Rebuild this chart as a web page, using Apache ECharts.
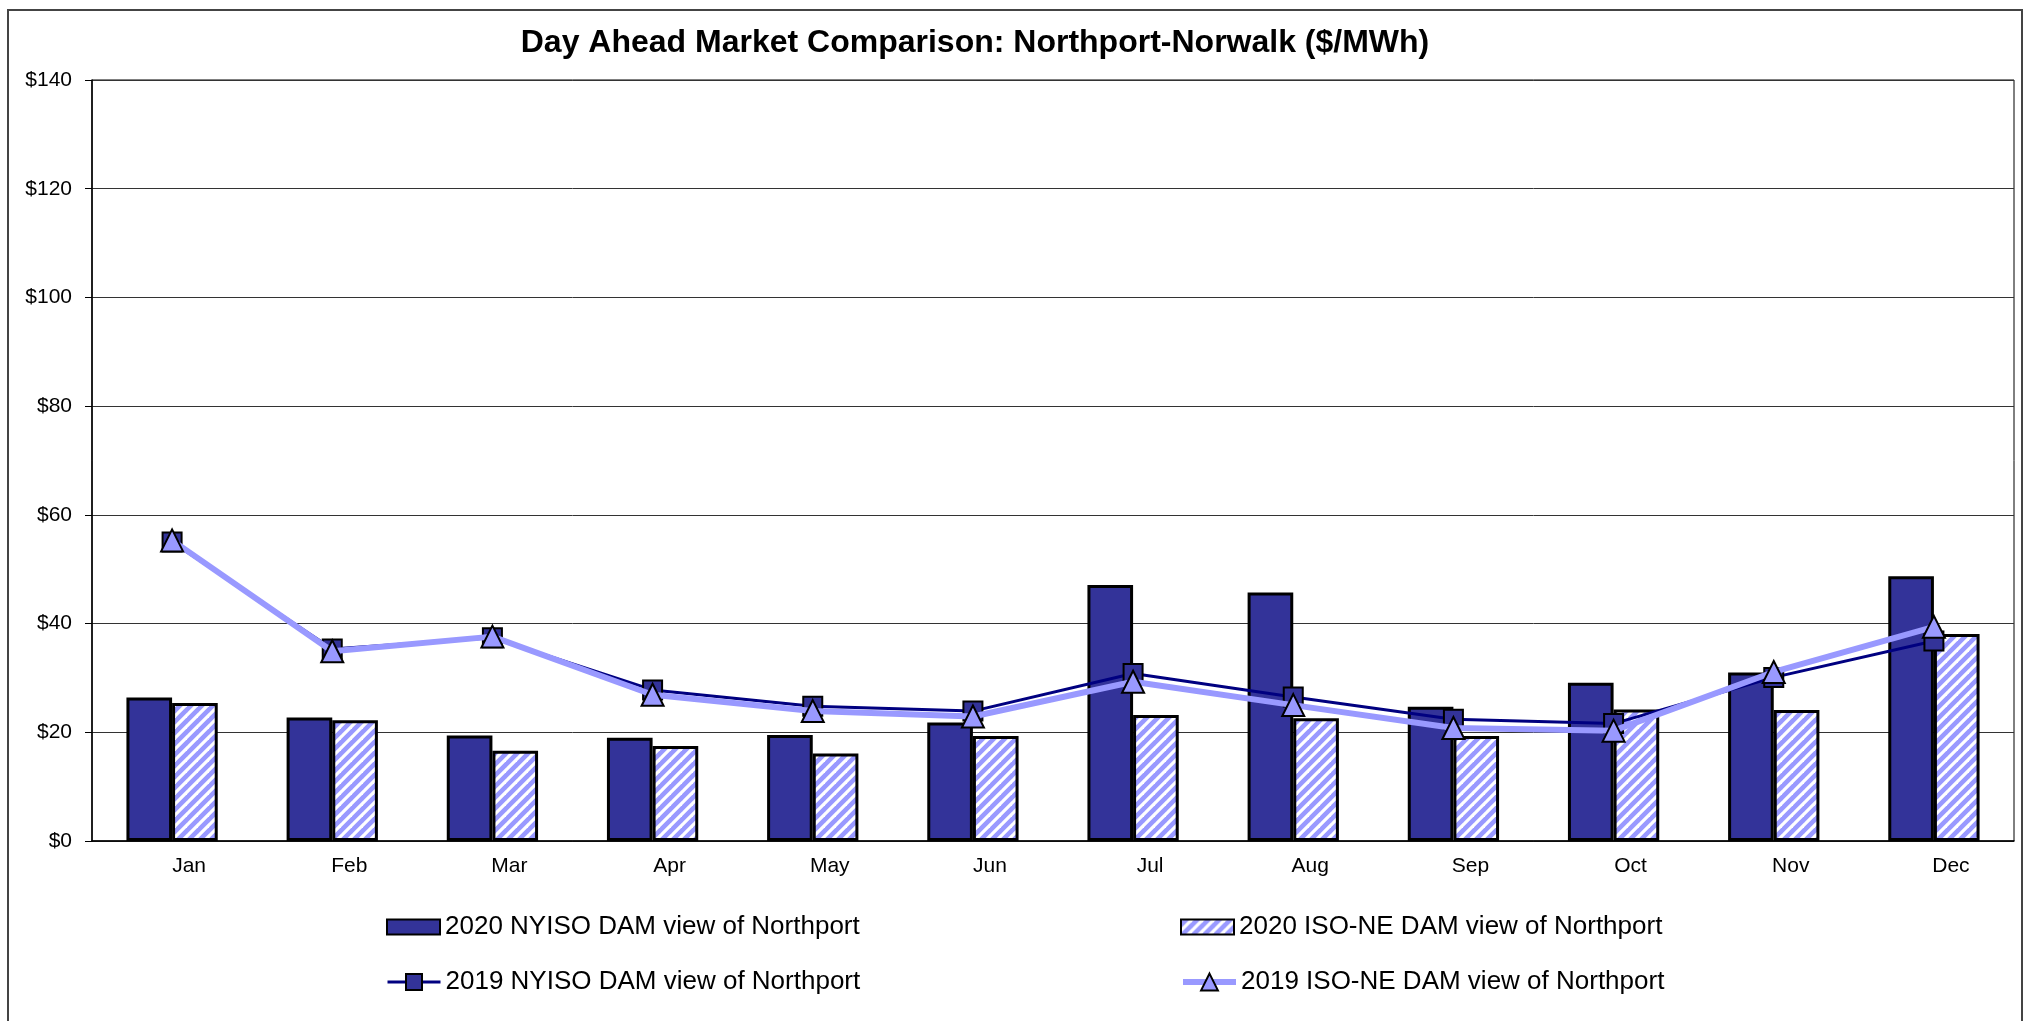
<!DOCTYPE html>
<html>
<head>
<meta charset="utf-8">
<title>Day Ahead Market Comparison</title>
<script src="https://cdn.jsdelivr.net/npm/echarts@6/dist/echarts.min.js"></script>
<style>
    html, body { margin: 0; padding: 0; background: #fff; }
    #chart { width: 2034px; height: 1021px; }
</style>
</head>
<body>
<div id="chart"></div>
<script>
'use strict';

var months = ['Jan', 'Feb', 'Mar', 'Apr', 'May', 'Jun', 'Jul', 'Aug', 'Sep', 'Oct', 'Nov', 'Dec'];
var nyiso2020 = [26.4, 22.7, 19.4, 19.0, 19.5, 21.8, 47.1, 45.7, 24.7, 29.1, 31.0, 48.7];
var isone2020 = [25.4, 22.2, 16.6, 17.5, 16.1, 19.3, 23.2, 22.6, 19.3, 24.2, 24.1, 38.1];
var nyiso2019 = [55.0, 35.3, 37.4, 27.8, 24.8, 23.9, 30.8, 26.5, 22.4, 21.6, 30.1, 36.8];
var isone2019 = [55.3, 34.9, 37.6, 26.9, 23.9, 22.9, 29.3, 25.0, 20.8, 20.3, 31.1, 39.4];
var yTicks = { min: 0, max: 140, step: 20 };

var names = [
    '2020 NYISO DAM view of Northport',
    '2020 ISO-NE DAM view of Northport',
    '2019 NYISO DAM view of Northport',
    '2019 ISO-NE DAM view of Northport'
];

var font = '"Liberation Sans", Arial, sans-serif';

// diagonal hatch for the ISO-NE bars
function hatch() {
    var c = document.createElement('canvas');
    var s = 11;
    c.width = s;
    c.height = s;
    var ctx = c.getContext('2d');
    ctx.fillStyle = '#9999FF';
    ctx.fillRect(0, 0, s, s);
    ctx.strokeStyle = '#ffffff';
    ctx.lineWidth = 3.2;
    for (var k = -1; k <= 1; k++) {
        ctx.beginPath();
        ctx.moveTo(k * s - 3, s + 3);
        ctx.lineTo(k * s + s + 3, -3);
        ctx.stroke();
    }
    return c;
}

var legendText = { fontSize: 26, lineHeight: 30, color: '#000', fontFamily: font };

// one legend box per entry, laid out 2 x 2 like the original
function legendBox(item, left, top, h) {
    return {
        data: [item],
        left: left, top: top, padding: 0,
        itemWidth: 53, itemHeight: h,
        textStyle: legendText
    };
}

var myChart = echarts.init(document.getElementById('chart'));

var option = {
    backgroundColor: '#fff',
    animation: false,
    textStyle: { fontFamily: font, color: '#000' },
    graphic: [{
        type: 'rect',
        shape: { x: 8, y: 10, width: 2014, height: 1040 },
        style: { fill: 'none', stroke: '#444', lineWidth: 2 },
        silent: true
    }, {
        type: 'text',
        x: 975,
        y: 43,
        style: {
            text: 'Day Ahead Market Comparison: Northport-Norwalk ($/MWh)',
            font: 'bold 32px ' + font,
            fill: '#000',
            align: 'center',
            verticalAlign: 'middle'
        }
    }],
    grid: {
        left: 92, top: 80, right: 20, bottom: 180,
        show: true, borderColor: '#000', borderWidth: 1
    },
    legend: [
        legendBox({ name: names[0], icon: 'rect' }, 386, 912, 15),
        legendBox({ name: names[1], icon: 'rect' }, 1180, 912, 15),
        legendBox({ name: names[2], lineStyle: { width: 3 } }, 386, 967, 20),
        legendBox({ name: names[3], lineStyle: { width: 6 } }, 1180, 967, 21)
    ],
    xAxis: {
        type: 'category',
        data: months,
        boundaryGap: true,
        axisLine: { lineStyle: { color: '#000', width: 1.5 } },
        axisTick: { alignWithLabel: false, length: 6, lineStyle: { color: '#000' } },
        axisLabel: { fontSize: 21, color: '#000', margin: 15, padding: [0, 0, 0, 34] }
    },
    yAxis: {
        type: 'value',
        min: yTicks.min, max: yTicks.max, interval: yTicks.step,
        axisLine: { show: true, lineStyle: { color: '#000', width: 1.5 } },
        axisTick: { show: true, length: 7, lineStyle: { color: '#000' } },
        axisLabel: { fontSize: 21, color: '#000', margin: 20, formatter: '${value}' },
        splitLine: { lineStyle: { color: '#333', width: 1 } }
    },
    series: [{
        name: names[0],
        type: 'bar',
        data: nyiso2020,
        barGap: '0%',
        barCategoryGap: '43%',
        itemStyle: { color: '#333399', borderColor: '#000', borderWidth: 3 }
    }, {
        name: names[1],
        type: 'bar',
        data: isone2020,
        barGap: '0%',
        barCategoryGap: '43%',
        itemStyle: { color: { image: hatch(), repeat: 'repeat' }, borderColor: '#000', borderWidth: 3 }
    }, {
        name: names[2],
        type: 'line',
        data: nyiso2019,
        symbol: 'rect',
        symbolSize: 19,
        lineStyle: { color: '#000080', width: 3 },
        itemStyle: { color: '#333399', borderColor: '#000', borderWidth: 2 },
        z: 3
    }, {
        name: names[3],
        type: 'line',
        data: isone2019,
        symbol: 'triangle',
        symbolSize: 22,
        lineStyle: { color: '#9999FF', width: 6 },
        itemStyle: { color: '#9999FF', borderColor: '#000', borderWidth: 2 },
        z: 4
    }]
};

myChart.setOption(option);
</script>
</body>
</html>
